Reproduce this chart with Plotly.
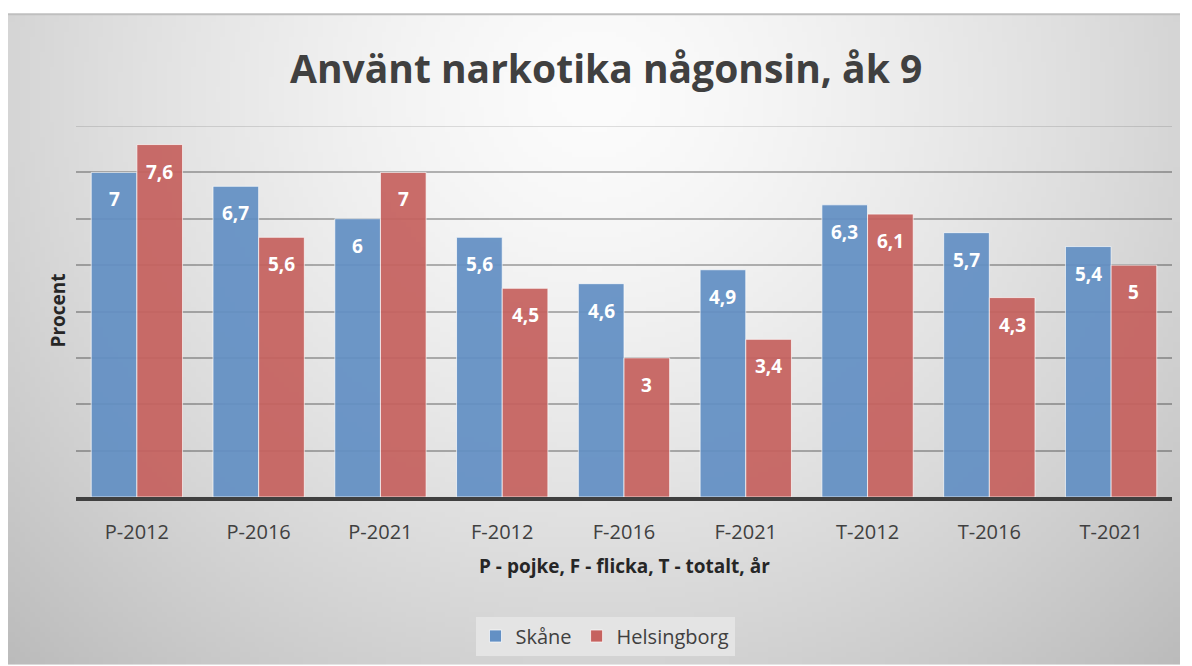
import base64, struct, zlib
import numpy as np
import plotly.graph_objects as go

categories = ["P-2012", "P-2016", "P-2021", "F-2012", "F-2016", "F-2021", "T-2012", "T-2016", "T-2021"]
skane = [7, 6.7, 6, 5.6, 4.6, 4.9, 6.3, 5.7, 5.4]
helsingborg = [7.6, 5.6, 7, 4.5, 3, 3.4, 6.1, 4.3, 5]
series_names = ["Skåne", "Helsingborg"]
y_max = 8

OFF = 8  # page offset of the figure (body margin)
W, H = 1192 - OFF, 666 - OFF
# targets in screen pixels
PL, PR, PT, PB = 76, 1172, 126, 498
L, T = PL - OFF, PT - OFF
R = W - (PR - OFF)
B = H - (PB - OFF)
pw, ph = PR - PL, PB - PT


def make_png(w, h):
    xs = np.linspace(0, 1, w)[None, :]
    ys = np.linspace(0, 1, h)[:, None]
    d = np.sqrt(((xs - 0.5) / 0.62) ** 2 + ((ys - 0.12) / 1.05) ** 2)
    v = 252 - 52 * np.clip(d, 0, 1.2) ** 1.4
    v = np.clip(v, 180, 255).astype(np.uint8)
    raw = b"".join(b"\x00" + bytes(np.repeat(v[r], 3)) for r in range(h))

    def chunk(t, data):
        c = struct.pack(">I", len(data)) + t + data
        return c + struct.pack(">I", zlib.crc32(t + data) & 0xffffffff)

    png = b"\x89PNG\r\n\x1a\n" + chunk(b"IHDR", struct.pack(">IIBBBBB", w, h, 8, 2, 0, 0, 0))
    png += chunk(b"IDAT", zlib.compress(raw, 9)) + chunk(b"IEND", b"")
    return "data:image/png;base64," + base64.b64encode(png).decode()


def px_x(p):
    return (p - PL) / pw


def px_y(p):
    return (PB - p) / ph


fig = go.Figure()
colors = ["#6390C4", "#C6625F"]
for name, vals, col in zip(series_names, [skane, helsingborg], colors):
    fig.add_trace(go.Bar(
        x=categories, y=vals, name=name,
        marker=dict(color=col, opacity=0.93, line=dict(color="rgba(255,255,255,0.7)", width=1)),
        hoverinfo="x+y",
    ))

bar_off = pw / len(categories) * 0.75 / 4
annotations = []
for vals, sh in [(skane, -bar_off), (helsingborg, bar_off)]:
    for c, v in zip(categories, vals):
        annotations.append(dict(
            x=c, y=v, xref="x", yref="y", text=str(v).replace(".", ","),
            showarrow=False, xshift=sh, yshift=-27, xanchor="center", yanchor="middle",
            font=dict(family="Open Sans", size=19, color="white", weight="bold"),
        ))

annotations += [
    dict(text="Använt narkotika någonsin, åk 9", x=px_x(606), y=px_y(67), xref="paper", yref="paper",
         xanchor="center", yanchor="middle",
         showarrow=False, font=dict(family="Open Sans", size=39, color="#404040", weight="bold")),
    dict(text="Procent", x=px_x(58), y=px_y(311), xref="paper", yref="paper", textangle=-90,
         xanchor="center", yanchor="middle",
         showarrow=False, font=dict(family="Open Sans", size=19, color="#262626", weight="bold")),
    dict(text="P - pojke, F - flicka, T - totalt, år", x=px_x(624), y=px_y(567), xref="paper", yref="paper",
         xanchor="center", yanchor="middle",
         showarrow=False, font=dict(family="Open Sans", size=19, color="#262626", weight="bold")),
]

fig.update_layout(
    width=W, height=H,
    margin=dict(l=L, r=R, t=T, b=B, pad=0),
    paper_bgcolor="white",
    plot_bgcolor="rgba(0,0,0,0)",
    barmode="group", bargap=0.25, bargroupgap=0,
    showlegend=True,
    legend=dict(orientation="h", x=px_x(605), xanchor="center", y=px_y(636), yanchor="middle",
                bgcolor="#E4E4E4", font=dict(family="Open Sans", size=20, color="#404040"),
                itemwidth=30, traceorder="normal"),
    annotations=annotations,
    images=[dict(source=make_png(240, 130), xref="paper", yref="paper",
                 x=px_x(8), y=px_y(14), sizex=(1180 - 8) / pw, sizey=(666 - 14) / ph,
                 xanchor="left", yanchor="top", sizing="stretch", layer="below")],
    shapes=[
        dict(type="line", xref="paper", yref="paper", x0=px_x(8), x1=px_x(1180),
             y0=px_y(14), y1=px_y(14), line=dict(color="#BFBFBF", width=2)),
        dict(type="line", xref="paper", yref="y", x0=0, x1=1, y0=y_max, y1=y_max,
             line=dict(color="rgba(0,0,0,0.16)", width=1.5), layer="below"),
    ],
    xaxis=dict(showgrid=False, showline=True, linecolor="#404040", linewidth=4,
               tickfont=dict(family="Open Sans", size=20, color="#404040"),
               ticklabelstandoff=14, fixedrange=True),
    yaxis=dict(range=[0, y_max], dtick=1, showticklabels=False, showgrid=True,
               gridcolor="rgba(0,0,0,0.28)", gridwidth=1.5, zeroline=False, fixedrange=True),
)

fig.write_html("out.html")
